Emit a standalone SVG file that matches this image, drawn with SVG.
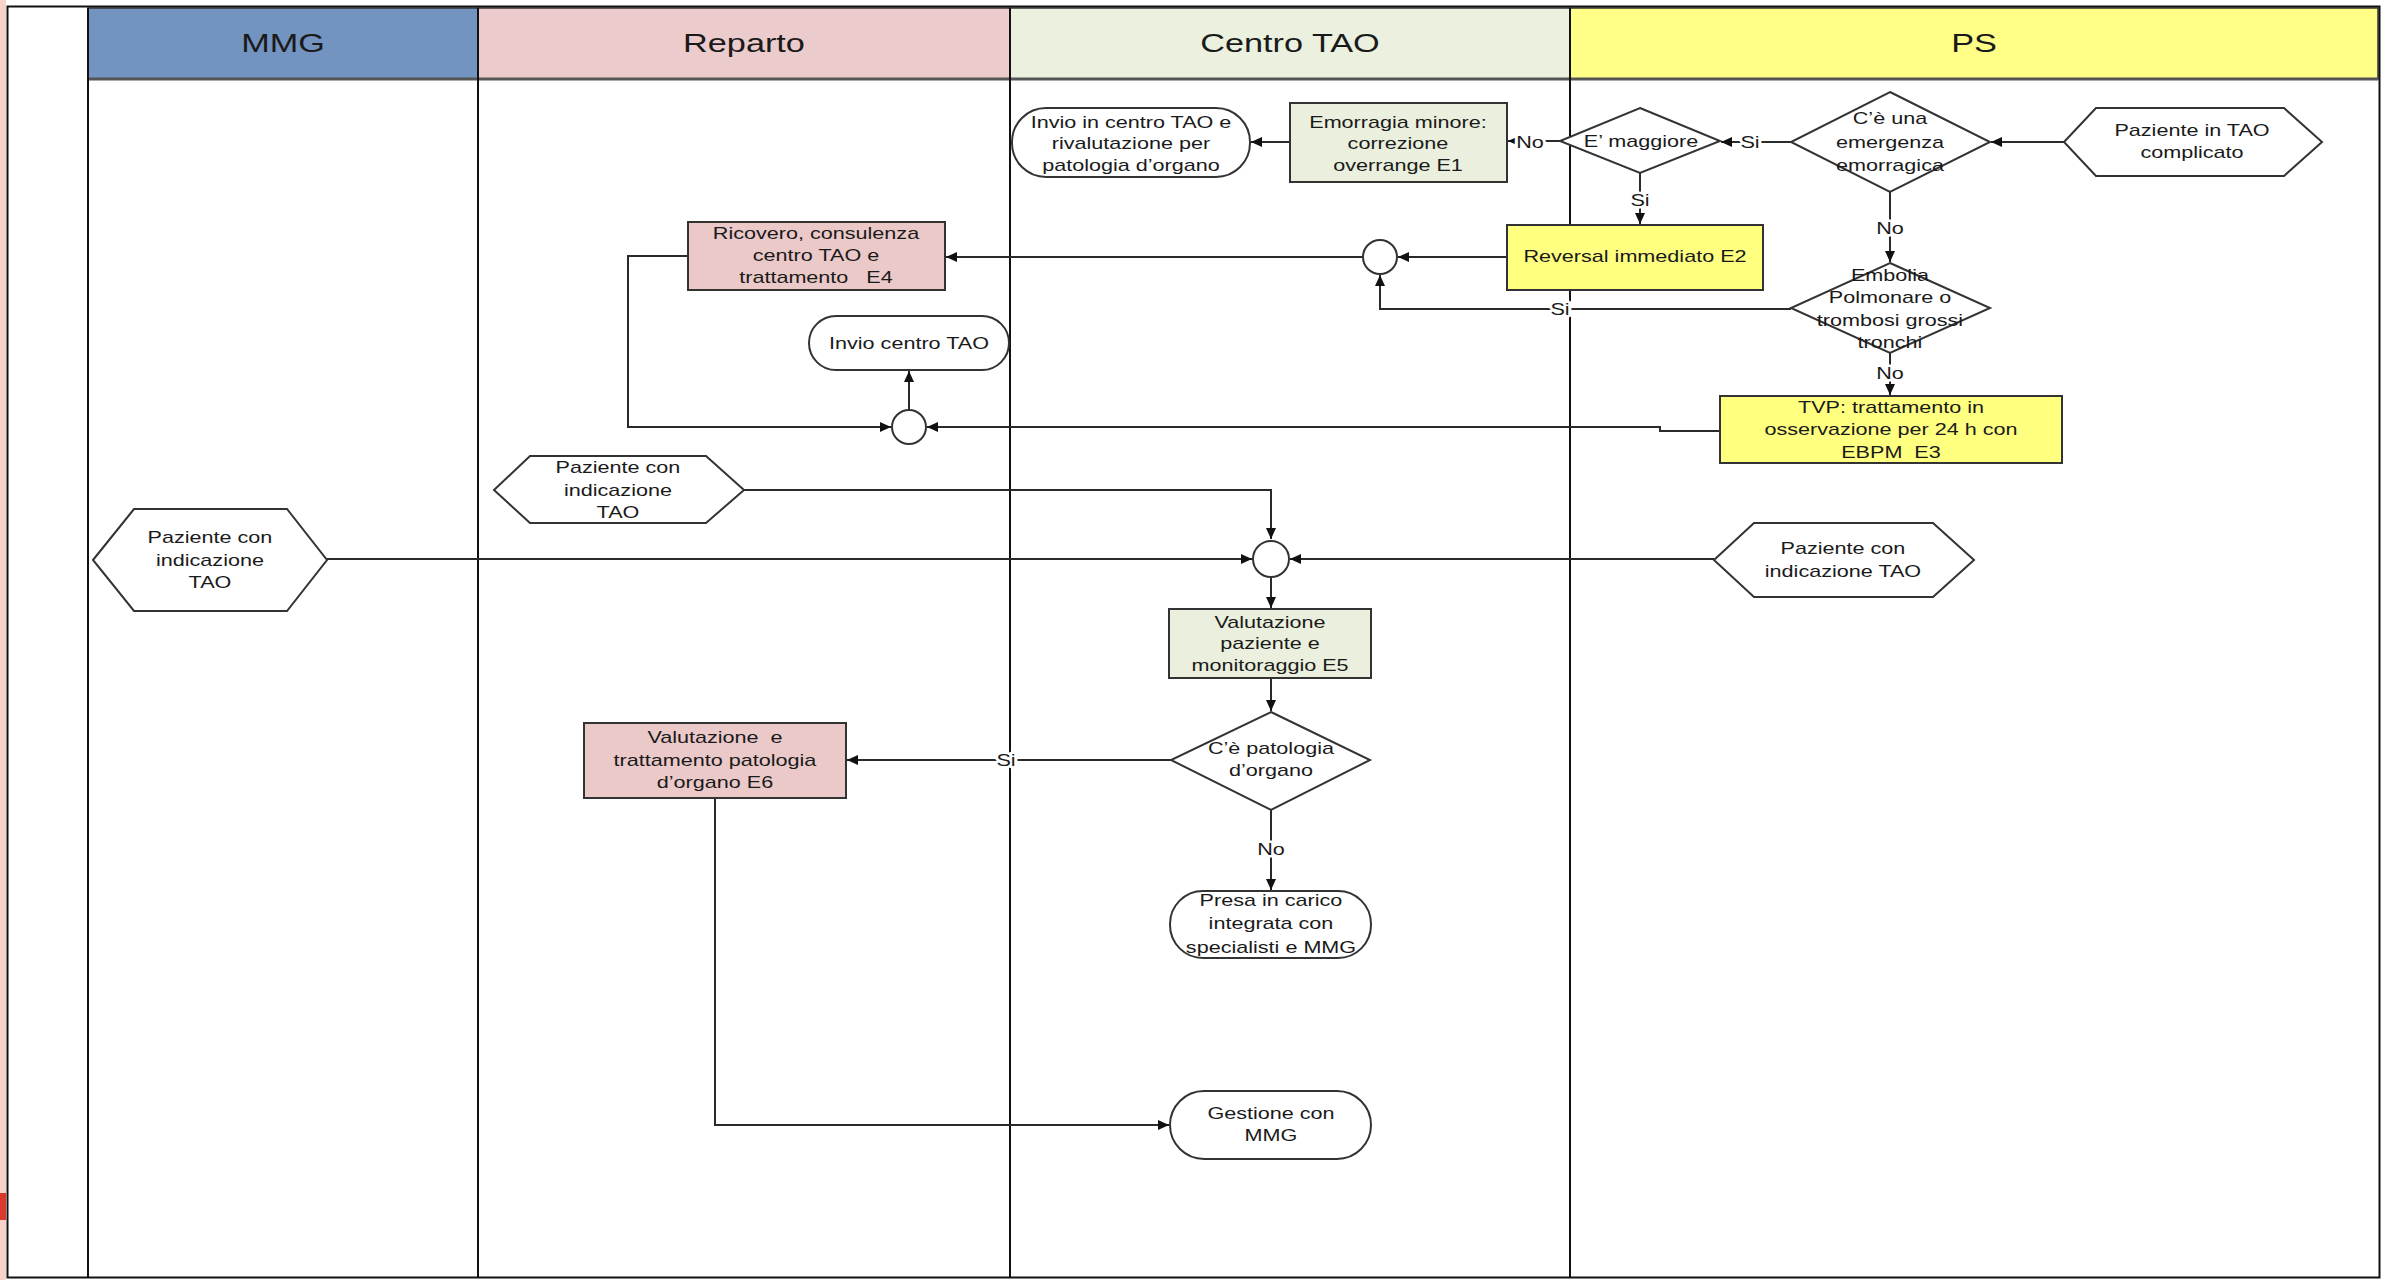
<svg xmlns="http://www.w3.org/2000/svg" width="2389" height="1280" viewBox="0 0 2389 1280">
<style>
.t{font-family:"Liberation Sans",Arial,sans-serif;font-size:17px;fill:#1a1a1a;text-anchor:middle;transform-box:fill-box;transform-origin:center;transform:scaleX(1.27);white-space:pre}
.h{font-size:25px;transform:scaleX(1.37)}
.lbl{stroke:#fff;stroke-width:5px;paint-order:stroke;stroke-linejoin:round}
.n{stroke:#333;stroke-width:2}
.w{fill:#fff}
.g{fill:#EAF0DD}
.p{fill:#EBC9C9}
.y{fill:#FFFF80}
.c{fill:none;stroke:#2a2a2a;stroke-width:2}
.a{marker-end:url(#arr)}
.lane{stroke:#111;stroke-width:2}
</style>
<defs>
<marker id="arr" markerUnits="userSpaceOnUse" markerWidth="12" markerHeight="10" refX="11" refY="5" orient="auto">
<path d="M0,0 L11,5 L0,10 z" fill="#111"/>
</marker>
</defs>
<rect x="0" y="0" width="2389" height="1280" fill="#fff"/>
<g id="frame">
<rect x="0" y="0" width="6" height="1280" fill="#F8D3C9"/>
<rect x="0" y="1193" width="6" height="27" fill="#D9382A"/>
<rect x="88" y="8" width="390" height="71" fill="#7394C0" stroke="#333" stroke-width="1.5"/>
<rect x="478" y="8" width="532" height="71" fill="#EBCBCB" stroke="#333" stroke-width="1.5"/>
<rect x="1010" y="8" width="560" height="71" fill="#EBF1DE" stroke="#333" stroke-width="1.5"/>
<rect x="1570" y="8" width="808" height="71" fill="#FFFF88" stroke="#333" stroke-width="1.5"/>
<line x1="88" y1="79" x2="2378" y2="79" stroke="#555" stroke-width="3"/>
<line class="lane" x1="88" y1="8" x2="88" y2="1278"/>
<line class="lane" x1="478" y1="8" x2="478" y2="1278"/>
<line class="lane" x1="1010" y1="8" x2="1010" y2="1278"/>
<line class="lane" x1="1570" y1="8" x2="1570" y2="1278"/>
<rect x="7.5" y="6.5" width="2372" height="1271" fill="none" stroke="#111" stroke-width="2"/>
<text class="t h" x="283" y="52">MMG</text>
<text class="t h" x="744" y="52">Reparto</text>
<text class="t h" x="1290" y="52">Centro TAO</text>
<text class="t h" x="1974" y="52">PS</text>
</g>
<g id="connectors">
<path class="c a" d="M2064,142 L1991,142"/>
<path class="c a" d="M1791,142 L1721,142"/>
<path class="c a" d="M1560,141 L1508,141"/>
<path class="c a" d="M1290,142 L1251,142"/>
<path class="c a" d="M1640,173 L1640,224"/>
<path class="c a" d="M1890,192 L1890,262"/>
<path class="c a" d="M1507,257 L1398,257"/>
<path class="c a" d="M1363,257 L946,257"/>
<path class="c a" d="M1791,309 L1380,309 L1380,275"/>
<path class="c a" d="M1890,353 L1890,395"/>
<path class="c a" d="M1720,431 L1660,431 L1660,427 L927,427"/>
<path class="c a" d="M688,256 L628,256 L628,427 L891,427"/>
<path class="c a" d="M909,410 L909,371"/>
<path class="c a" d="M744,490 L1271,490 L1271,539"/>
<path class="c a" d="M327,559 L1252,559"/>
<path class="c a" d="M1714,559 L1290,559"/>
<path class="c a" d="M1271,577 L1271,608"/>
<path class="c a" d="M1271,678 L1271,711"/>
<path class="c a" d="M1171,760 L847,760"/>
<path class="c a" d="M1271,810 L1271,890"/>
<path class="c a" d="M715,798 L715,1125 L1169,1125"/>
<text class="t lbl" x="1750" y="148">Si</text>
<text class="t lbl" x="1530" y="148">No</text>
<text class="t lbl" x="1640" y="206">Si</text>
<text class="t lbl" x="1890" y="234">No</text>
<text class="t lbl" x="1560" y="315">Si</text>
<text class="t lbl" x="1890" y="379">No</text>
<text class="t lbl" x="1006" y="766">Si</text>
<text class="t lbl" x="1271" y="855">No</text>
</g>
<g id="n-paziente-tao-complicato">
<polygon class="n w" points="2064,142 2096,108 2284,108 2322,142 2284,176 2096,176"/>
<text class="t" x="2192" y="136">Paziente in TAO</text>
<text class="t" x="2192" y="158">complicato</text>
</g>
<g id="n-emergenza">
<polygon class="n w" points="1890,92 1990,142 1890,192 1791,142"/>
<text class="t" x="1890" y="124">C’è una</text>
<text class="t" x="1890" y="148">emergenza</text>
<text class="t" x="1890" y="171">emorragica</text>
</g>
<g id="n-maggiore">
<polygon class="n w" points="1640,108 1720,141 1640,173 1560,141"/>
<text class="t" x="1641" y="147">E’ maggiore</text>
</g>
<g id="n-e1">
<rect class="n g" x="1290" y="103" width="217" height="79"/>
<text class="t" x="1398" y="128">Emorragia minore:</text>
<text class="t" x="1398" y="149">correzione</text>
<text class="t" x="1398" y="171">overrange E1</text>
</g>
<g id="n-invio-rivalutazione">
<rect class="n w" x="1012" y="108" width="238" height="69" rx="34"/>
<text class="t" x="1131" y="128">Invio in centro TAO e</text>
<text class="t" x="1131" y="149">rivalutazione per</text>
<text class="t" x="1131" y="171">patologia d’organo</text>
</g>
<g id="n-e2">
<rect class="n y" x="1507" y="225" width="256" height="65"/>
<text class="t" x="1635" y="262">Reversal immediato E2</text>
</g>
<g id="n-j1">
<circle class="n w" cx="1380" cy="257" r="17"/>
</g>
<g id="n-embolia">
<polygon class="n w" points="1890,263 1990,308 1890,353 1791,308"/>
<text class="t" x="1890" y="281">Embolia</text>
<text class="t" x="1890" y="303">Polmonare o</text>
<text class="t" x="1890" y="326">trombosi grossi</text>
<text class="t" x="1890" y="348">tronchi</text>
</g>
<g id="n-e3">
<rect class="n y" x="1720" y="396" width="342" height="67"/>
<text class="t" x="1891" y="413">TVP: trattamento in</text>
<text class="t" x="1891" y="435">osservazione per 24 h con</text>
<text class="t" x="1891" y="458" xml:space="preserve">EBPM  E3</text>
</g>
<g id="n-e4">
<rect class="n p" x="688" y="222" width="257" height="68"/>
<text class="t" x="816" y="239">Ricovero, consulenza</text>
<text class="t" x="816" y="261">centro TAO e</text>
<text class="t" x="816" y="283" xml:space="preserve">trattamento   E4</text>
</g>
<g id="n-invio-centro">
<rect class="n w" x="809" y="316" width="200" height="54" rx="27"/>
<text class="t" x="909" y="349">Invio centro TAO</text>
</g>
<g id="n-j2">
<circle class="n w" cx="909" cy="427" r="17"/>
</g>
<g id="n-paziente-mmg">
<polygon class="n w" points="93,560 134,509 287,509 327,560 287,611 134,611"/>
<text class="t" x="210" y="543">Paziente con</text>
<text class="t" x="210" y="566">indicazione</text>
<text class="t" x="210" y="588">TAO</text>
</g>
<g id="n-paziente-reparto">
<polygon class="n w" points="494,490 530,456 706,456 744,490 706,523 530,523"/>
<text class="t" x="618" y="473">Paziente con</text>
<text class="t" x="618" y="496">indicazione</text>
<text class="t" x="618" y="518">TAO</text>
</g>
<g id="n-j3">
<circle class="n w" cx="1271" cy="559" r="18"/>
</g>
<g id="n-paziente-ps">
<polygon class="n w" points="1714,560 1754,523 1933,523 1974,560 1933,597 1754,597"/>
<text class="t" x="1843" y="554">Paziente con</text>
<text class="t" x="1843" y="577">indicazione TAO</text>
</g>
<g id="n-e5">
<rect class="n g" x="1169" y="609" width="202" height="69"/>
<text class="t" x="1270" y="628">Valutazione</text>
<text class="t" x="1270" y="649">paziente e</text>
<text class="t" x="1270" y="671">monitoraggio E5</text>
</g>
<g id="n-patologia">
<polygon class="n w" points="1271,712 1370,760 1271,810 1171,760"/>
<text class="t" x="1271" y="754">C’è patologia</text>
<text class="t" x="1271" y="776">d’organo</text>
</g>
<g id="n-e6">
<rect class="n p" x="584" y="723" width="262" height="75"/>
<text class="t" x="715" y="743" xml:space="preserve">Valutazione  e</text>
<text class="t" x="715" y="766">trattamento patologia</text>
<text class="t" x="715" y="788">d’organo E6</text>
</g>
<g id="n-presa-in-carico">
<rect class="n w" x="1170" y="891" width="201" height="67" rx="33"/>
<text class="t" x="1271" y="906">Presa in carico</text>
<text class="t" x="1271" y="929">integrata con</text>
<text class="t" x="1271" y="953">specialisti e MMG</text>
</g>
<g id="n-gestione">
<rect class="n w" x="1170" y="1091" width="201" height="68" rx="34"/>
<text class="t" x="1271" y="1119">Gestione con</text>
<text class="t" x="1271" y="1141">MMG</text>
</g>
</svg>
